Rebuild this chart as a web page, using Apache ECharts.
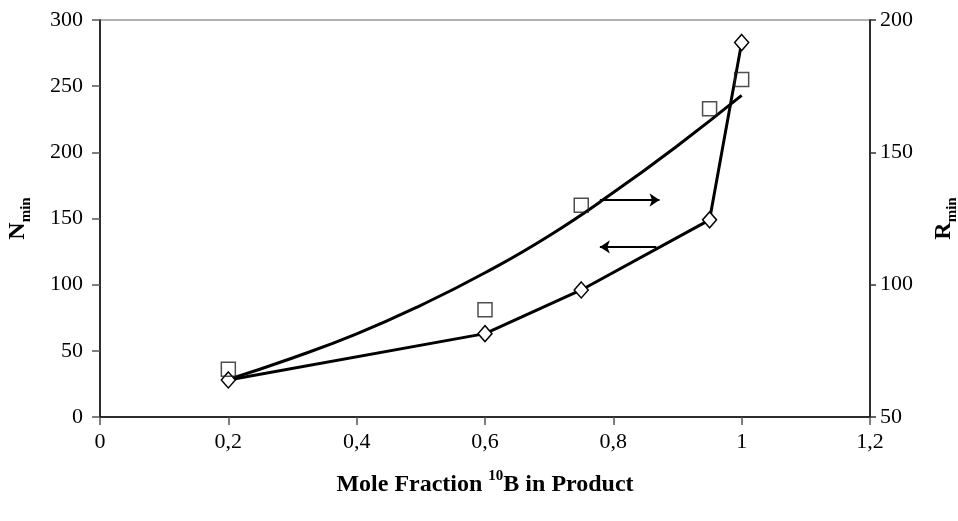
<!DOCTYPE html>
<html>
<head>
<meta charset="utf-8">
<title>Nmin and Rmin vs mole fraction</title>
<script src="https://cdn.jsdelivr.net/npm/echarts@6/dist/echarts.min.js"></script>
<style>
  html, body { margin: 0; padding: 0; background: #fff; }
  #chart { width: 958px; height: 521px; }
</style>
</head>
<body>
<div id="chart"></div>
<script>
// ── Data ────────────────────────────────────────────────────────────────
const moleFraction = [0.2, 0.6, 0.75, 0.95, 1.0];
const nMin = [28, 63, 96, 149, 283];          // diamonds, left axis
const rMin = [68, 90.5, 130, 166.5, 177.5];   // squares, right axis

// trend curve through the R points
const trendX = [0.2, 0.3, 0.4, 0.5, 0.6, 0.7, 0.8, 0.9, 1.0];
const trendR = [64.2, 72.3, 81.4, 92.2, 104.5, 118.5, 134.8, 152.5, 171.5];

// arrows pointing to the axis each curve belongs to: [x0, x1, y on left axis]
const arrowRight = [0.779, 0.872, 164];
const arrowLeft = [0.867, 0.779, 128.5];

const FONT = '"Liberation Serif", "Times New Roman", serif';

function pairs(xs, ys) {
  return xs.map((x, i) => [x, ys[i]]);
}

function arrowLine(a) {
  return [{ coord: [a[0], a[2]] }, { coord: [a[1], a[2]] }];
}

const chart = echarts.init(document.getElementById('chart'), null, { renderer: 'canvas' });

const axisText = { color: '#000', fontFamily: FONT, fontSize: 22 };

// bold title with a small subscript (rotated y titles)
function subTitleStyle() {
  return {
    rich: {
      b: { fontFamily: FONT, fontSize: 24, fontWeight: 'bold', color: '#000', lineHeight: 28, verticalAlign: 'top' },
      s: { fontFamily: FONT, fontSize: 15, fontWeight: 'bold', color: '#000', lineHeight: 28, verticalAlign: 'bottom' }
    }
  };
}

const option = {
  backgroundColor: '#fff',
  animation: false,
  grid: {
    left: 100, right: 88, top: 20, bottom: 104,
    outerBoundsMode: 'none',
    containLabel: false,
    show: true, borderColor: '#999', borderWidth: 1.5, backgroundColor: 'transparent'
  },
  xAxis: {
    type: 'value',
    min: 0, max: 1.2, interval: 0.2,
    name: '{b|Mole Fraction }{sup|10}{b|B in Product}',
    nameLocation: 'middle',
    nameGap: 52,
    nameTextStyle: {
      rich: {
        b: { fontFamily: FONT, fontSize: 24, fontWeight: 'bold', color: '#000', lineHeight: 28, verticalAlign: 'bottom' },
        sup: { fontFamily: FONT, fontSize: 15, fontWeight: 'bold', color: '#000', lineHeight: 28, verticalAlign: 'top' }
      }
    },
    axisLine: { lineStyle: { color: '#000', width: 1.5 } },
    axisTick: { length: 8, lineStyle: { color: '#555', width: 1.5 } },
    splitLine: { show: false },
    axisLabel: Object.assign({
      margin: 14,
      formatter: v => String(+v.toFixed(1)).replace('.', ',')
    }, axisText)
  },
  yAxis: [
    {
      type: 'value',
      min: 0, max: 300, interval: 50,
      name: '{b|N}{s|min}',
      nameLocation: 'middle',
      nameRotate: 90,
      nameGap: 66,
      nameTextStyle: subTitleStyle(),
      axisLine: { show: true, lineStyle: { color: '#000', width: 1.5 } },
      axisTick: { show: true, length: 8, lineStyle: { color: '#555', width: 1.5 } },
      splitLine: { show: false },
      axisLabel: Object.assign({ margin: 17 }, axisText)
    },
    {
      type: 'value',
      position: 'right',
      min: 50, max: 200, interval: 50,
      name: '{b|R}{s|min}',
      nameLocation: 'middle',
      nameRotate: 90,
      nameGap: 62,
      nameTextStyle: subTitleStyle(),
      axisLine: { show: true, lineStyle: { color: '#000', width: 1.5 } },
      axisTick: { show: true, length: 6, lineStyle: { color: '#333', width: 1.5 } },
      splitLine: { show: false },
      axisLabel: Object.assign({ margin: 10 }, axisText)
    }
  ],
  series: [
    {
      name: 'R trend',
      type: 'line',
      yAxisIndex: 1,
      data: pairs(trendX, trendR),
      smooth: 0.5,
      showSymbol: false,
      symbol: 'none',
      lineStyle: { color: '#000', width: 3 },
      z: 2
    },
    {
      name: 'Nmin',
      type: 'line',
      yAxisIndex: 0,
      data: pairs(moleFraction, nMin),
      symbol: 'diamond',
      symbolSize: [14, 16],
      itemStyle: { color: '#fff', borderColor: '#000', borderWidth: 1.5 },
      lineStyle: { color: '#000', width: 3 },
      z: 3,
      markLine: {
        silent: true,
        symbol: ['none', 'arrow'],
        symbolSize: [10, 10],
        label: { show: false },
        lineStyle: { color: '#000', width: 2, type: 'solid' },
        data: [arrowLine(arrowRight), arrowLine(arrowLeft)]
      }
    },
    {
      name: 'Rmin',
      type: 'scatter',
      yAxisIndex: 1,
      data: pairs(moleFraction, rMin),
      symbol: 'rect',
      symbolSize: 14,
      itemStyle: { color: 'rgba(255,255,255,0)', borderColor: '#222', borderWidth: 1.5 },
      z: 4
    }
  ]
};

chart.setOption(option);
</script>
</body>
</html>
